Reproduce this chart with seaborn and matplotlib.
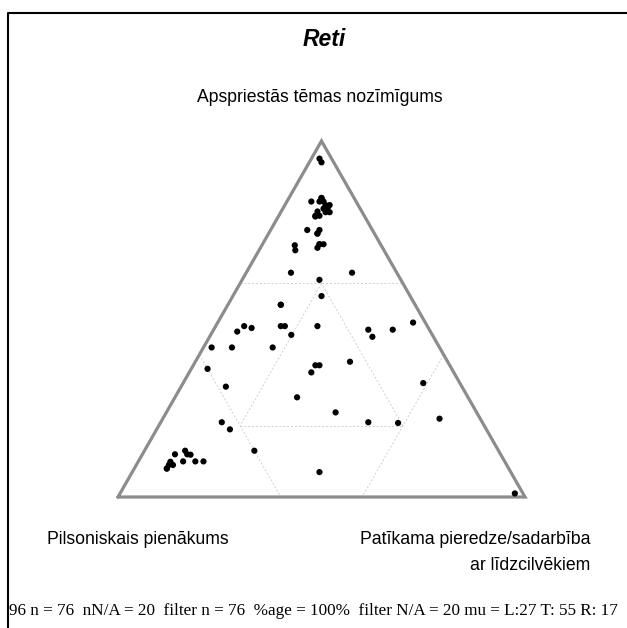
import numpy as np
import matplotlib
matplotlib.use("Agg")
import matplotlib.pyplot as plt
import seaborn as sns
import pandas as pd

sns.set_theme(style="white")
plt.rcParams['font.family'] = ['Liberation Sans', 'DejaVu Sans']
plt.rcParams['text.color'] = 'black'

# Dati: procenti katram atbildētājam (L = kreisais, T = augšējais, R = labais)
L_vals = [3, 3, 11,
          8, 8, 9, 7, 8, 11, 9, 9, 8, 11, 12, 12, 8, 8,
          16, 13, 14, 21, 22, 15, 16, 14, 15,
          26, 11, 20, 22, 33, 33, 27, 36, 35, 35,
          45, 43, 47, 56, 51, 41, 15, 15, 9, 3,
          60, 24, 33, 32, 35, 58, 9, 42, 35, 28, 21, 10,
          64, 63, 60, 47, 2,
          77, 80, 77, 77, 79, 76, 74, 83, 82, 84, 83, 84, 14]
T_vals = [96, 94, 83,
          84, 83, 83, 82, 81, 81, 81, 80, 80, 79, 78, 79, 82, 84,
          75, 75, 74, 70, 70, 71, 70, 71, 71,
          63, 63, 61, 57, 54, 54, 48, 48, 48, 46,
          48, 47, 46, 42, 42, 42, 47, 45, 47, 49,
          36, 38, 37, 37, 35, 31, 32, 28, 24, 21, 21, 22,
          21, 19, 13, 7, 1,
          13, 12, 12, 12, 10, 10, 10, 10, 9, 8, 9, 8, 74]
R_vals = [2, 3, 6,
          8, 9, 8, 11, 11, 9, 10, 11, 12, 10, 9, 9, 10, 8,
          9, 12, 12, 8, 9, 14, 14, 15, 14,
          11, 26, 19, 22, 13, 13, 25, 16, 17, 20,
          7, 9, 6, 2, 7, 17, 38, 40, 44, 48,
          4, 38, 30, 31, 30, 11, 59, 30, 42, 51, 59, 68,
          15, 18, 27, 46, 97,
          10, 8, 11, 12, 11, 14, 16, 8, 9, 8, 8, 8, 12]

title = "Reti"
label_top = "Apspriestās tēmas nozīmīgums"
label_left = "Pilsoniskais pienākums"
label_right = ["Patīkama pieredze/sadarbība", "ar līdzcilvēkiem"]
footer = "96 n = 76  nN/A = 20  filter n = 76  %age = 100%  filter N/A = 20 mu = L:27 T: 55 R: 17"

H = np.sqrt(3) / 2


def tern(l, t, r):
    # barycentriskās koordinātas -> plaknes koordinātas
    l, t, r = np.asarray(l, float), np.asarray(t, float), np.asarray(r, float)
    s = l + t + r
    return (r + t / 2) / s, (t / s) * H


x, y = tern(L_vals, T_vals, R_vals)
df = pd.DataFrame({"x": x, "y": y})

W, Hpx = 627, 628
fig = plt.figure(figsize=(W / 100, Hpx / 100), dpi=100)
ax = fig.add_axes([0, 0, 1, 1])

# trijstūris: kreisā virsotne (118,497) px, platums 407 px, augstums 356 px
sx, sy = 407.0, 356.0 / H
ax.set_xlim(-118 / sx, (W - 118) / sx)
ax.set_ylim((497 - Hpx) / sy, 497 / sy)
ax.axis("off")

# palīglīnijas (punktētas)
grid_segments = [
    ((40, 60, 0), (0, 60, 40)),
    ((60, 40, 0), (60, 0, 40)),
    ((0, 40, 60), (40, 0, 60)),
    ((20, 60, 20), (60, 20, 20)),
    ((60, 20, 20), (20, 20, 60)),
    ((20, 20, 60), (20, 60, 20)),
]
for a, b in grid_segments:
    gx, gy = tern([a[0], b[0]], [a[1], b[1]], [a[2], b[2]])
    ax.plot(gx, gy, color="#d0d0d0", lw=0.7, ls=(0, (2, 2)), zorder=1)

tx, ty = tern([100, 0, 0, 100], [0, 100, 0, 0], [0, 0, 100, 0])
ax.plot(tx, ty, color="#8c8c8c", lw=2.3, solid_joinstyle="miter", zorder=2)

sns.scatterplot(data=df, x="x", y="y", color="black", s=20, edgecolor="none",
                ax=ax, zorder=3, legend=False)

# rāmis
ax.plot([8 / sx - 118 / sx, 8 / sx - 118 / sx, (W + 5 - 118) / sx],
        [(497 - Hpx - 5) / sy, (497 - 13) / sy, (497 - 13) / sy],
        color="black", lw=1.5, clip_on=False)


def fy(py):
    return 1 - py / Hpx


fig.text(324 / W, fy(40), title, ha="center", va="center", fontsize=16.5,
         fontweight="bold", fontstyle="italic")
fig.text(320 / W, fy(97), label_top, ha="center", va="center", fontsize=12.7)
fig.text(47 / W, fy(540), label_left, ha="left", va="center", fontsize=12.7)
fig.text(590 / W, fy(540), label_right[0], ha="right", va="center", fontsize=12.7)
fig.text(590 / W, fy(565), label_right[1], ha="right", va="center", fontsize=12.7)
fig.text(9 / W, fy(611), footer, ha="left", va="center", fontsize=12.3,
         family=["Liberation Serif", "DejaVu Serif"])

fig.savefig("out.png", dpi=100)
